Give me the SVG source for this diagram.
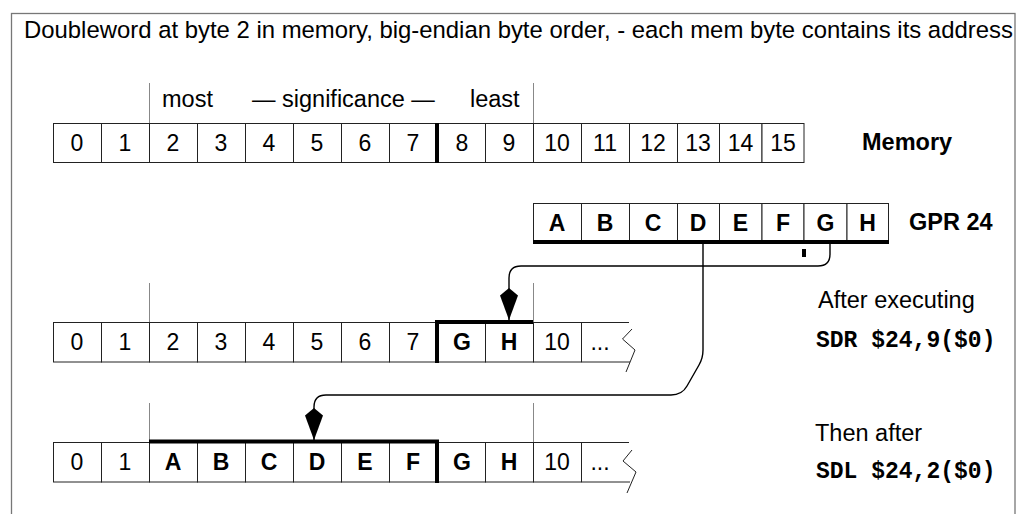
<svg xmlns="http://www.w3.org/2000/svg" width="1021" height="514" viewBox="0 0 1021 514">
<style>
  .frame { fill: #fff; stroke: #777; stroke-width: 1.3; }
  .cell { fill: #fff; stroke: #222; stroke-width: 1; }
  .edge { fill: none; stroke: #222; stroke-width: 1; }
  .tick { stroke: #888; stroke-width: 1; }
  .thick { fill: none; stroke: #000; stroke-width: 4; stroke-linejoin: miter; stroke-linecap: butt; }
  .conn { fill: none; stroke: #000; stroke-width: 1.4; }
  .t { font-family: "Liberation Sans", Arial, Helvetica, sans-serif; fill: #000; }
  .lbl { font-size: 23.5px; }
  .num { font-size: 23px; text-anchor: middle; }
  .b { font-weight: bold; }
  .mono { font-family: "Liberation Mono", "Courier New", monospace; font-weight: bold; font-size: 23px; fill: #000; }
</style>
<defs>
  <marker id="kite" markerUnits="userSpaceOnUse" viewBox="0 0 33 20" refX="32.5" refY="10" markerWidth="33" markerHeight="20" orient="auto">
    <polygon points="0.5,10 8,1 32.5,10 8,19" fill="#000"/>
  </marker>
</defs>

<rect class="frame" x="11.5" y="13.5" width="1003.5" height="530"/>

<g id="title">
  <text class="t lbl" x="24" y="38" style="font-size:23.9px">Doubleword at byte 2 in memory, big-endian byte order, - each mem byte contains its address</text>
</g>

<g id="memory">
  <line class="tick" x1="149.5" y1="83" x2="149.5" y2="123"/>
  <line class="tick" x1="533.5" y1="83" x2="533.5" y2="123"/>
  <text class="t lbl" x="162" y="107">most</text>
  <text class="t lbl" x="252" y="107">— significance —</text>
  <text class="t lbl" x="470" y="107">least</text>
  <rect class="cell" x="53.5" y="123.5" width="48" height="39"/>
  <rect class="cell" x="101.5" y="123.5" width="48" height="39"/>
  <rect class="cell" x="149.5" y="123.5" width="48" height="39"/>
  <rect class="cell" x="197.5" y="123.5" width="48" height="39"/>
  <rect class="cell" x="245.5" y="123.5" width="48" height="39"/>
  <rect class="cell" x="293.5" y="123.5" width="48" height="39"/>
  <rect class="cell" x="341.5" y="123.5" width="48" height="39"/>
  <rect class="cell" x="389.5" y="123.5" width="48" height="39"/>
  <rect class="cell" x="437.5" y="123.5" width="48" height="39"/>
  <rect class="cell" x="485.5" y="123.5" width="48" height="39"/>
  <rect class="cell" x="533.5" y="123.5" width="48" height="39"/>
  <rect class="cell" x="581.5" y="123.5" width="48" height="39"/>
  <rect class="cell" x="629.5" y="123.5" width="48" height="39"/>
  <rect class="cell" x="677.5" y="123.5" width="42" height="39"/>
  <rect class="cell" x="719.5" y="123.5" width="42.5" height="39"/>
  <rect class="cell" x="762" y="123.5" width="42" height="39"/>
  <line class="thick" x1="437" y1="123" x2="437" y2="163"/>
  <text class="t num" x="77" y="151">0</text>
  <text class="t num" x="125" y="151">1</text>
  <text class="t num" x="173" y="151">2</text>
  <text class="t num" x="221" y="151">3</text>
  <text class="t num" x="269" y="151">4</text>
  <text class="t num" x="317" y="151">5</text>
  <text class="t num" x="365" y="151">6</text>
  <text class="t num" x="413" y="151">7</text>
  <text class="t num" x="462" y="151">8</text>
  <text class="t num" x="509" y="151">9</text>
  <text class="t num" x="557" y="151">10</text>
  <text class="t num" x="605" y="151">11</text>
  <text class="t num" x="653" y="151">12</text>
  <text class="t num" x="698" y="151">13</text>
  <text class="t num" x="740.5" y="151">14</text>
  <text class="t num" x="783" y="151">15</text>
  <text class="t lbl b" x="862" y="150">Memory</text>
</g>

<g id="gpr24">
  <rect class="cell" x="533.5" y="203.5" width="48" height="38.5"/>
  <rect class="cell" x="581.5" y="203.5" width="48" height="38.5"/>
  <rect class="cell" x="629.5" y="203.5" width="48" height="38.5"/>
  <rect class="cell" x="677.5" y="203.5" width="42" height="38.5"/>
  <rect class="cell" x="719.5" y="203.5" width="42.5" height="38.5"/>
  <rect class="cell" x="762" y="203.5" width="42" height="38.5"/>
  <rect class="cell" x="804" y="203.5" width="43" height="38.5"/>
  <rect class="cell" x="847" y="203.5" width="41.5" height="38.5"/>
  <line class="thick" x1="533" y1="242" x2="889" y2="242"/>
  <rect x="802" y="249" width="4" height="8" fill="#000"/>
  <text class="t num b" x="557" y="231">A</text>
  <text class="t num b" x="605" y="231">B</text>
  <text class="t num b" x="653" y="231">C</text>
  <text class="t num b" x="698" y="231">D</text>
  <text class="t num b" x="740.5" y="231">E</text>
  <text class="t num b" x="783" y="231">F</text>
  <text class="t num b" x="825.5" y="231">G</text>
  <text class="t num b" x="867.5" y="231">H</text>
  <text class="t lbl b" x="909" y="230">GPR 24</text>
</g>

<g id="after-sdr">
  <line class="tick" x1="149.5" y1="283" x2="149.5" y2="322"/>
  <line class="tick" x1="533.5" y1="283" x2="533.5" y2="322"/>
  <rect class="cell" x="53.5" y="322.5" width="48" height="39.5"/>
  <rect class="cell" x="101.5" y="322.5" width="48" height="39.5"/>
  <rect class="cell" x="149.5" y="322.5" width="48" height="39.5"/>
  <rect class="cell" x="197.5" y="322.5" width="48" height="39.5"/>
  <rect class="cell" x="245.5" y="322.5" width="48" height="39.5"/>
  <rect class="cell" x="293.5" y="322.5" width="48" height="39.5"/>
  <rect class="cell" x="341.5" y="322.5" width="48" height="39.5"/>
  <rect class="cell" x="389.5" y="322.5" width="48" height="39.5"/>
  <rect class="cell" x="437.5" y="322.5" width="48" height="39.5"/>
  <rect class="cell" x="485.5" y="322.5" width="48" height="39.5"/>
  <rect class="cell" x="533.5" y="322.5" width="48" height="39.5"/>
  <path class="edge" d="M581.5,322.5 L629,322.5 M581.5,362 L630,362"/>
  <path class="edge" d="M632,329 L622.5,339 L635,350 L626,372"/>
  <path class="thick" d="M437,363 L437,322 L533,322"/>
  <text class="t num" x="77" y="350">0</text>
  <text class="t num" x="125" y="350">1</text>
  <text class="t num" x="173" y="350">2</text>
  <text class="t num" x="221" y="350">3</text>
  <text class="t num" x="269" y="350">4</text>
  <text class="t num" x="317" y="350">5</text>
  <text class="t num" x="365" y="350">6</text>
  <text class="t num" x="413" y="350">7</text>
  <text class="t num b" x="462" y="350">G</text>
  <text class="t num b" x="509" y="350">H</text>
  <text class="t num" x="557" y="350">10</text>
  <text class="t num" x="600" y="350">...</text>
  <text class="t lbl" x="818" y="308">After executing</text>
  <text class="mono" x="816" y="347">SDR $24,9($0)</text>
</g>

<g id="after-sdl">
  <line class="tick" x1="149.5" y1="403" x2="149.5" y2="442"/>
  <line class="tick" x1="533.5" y1="403" x2="533.5" y2="442"/>
  <rect class="cell" x="53.5" y="442.5" width="48" height="39.5"/>
  <rect class="cell" x="101.5" y="442.5" width="48" height="39.5"/>
  <rect class="cell" x="149.5" y="442.5" width="48" height="39.5"/>
  <rect class="cell" x="197.5" y="442.5" width="48" height="39.5"/>
  <rect class="cell" x="245.5" y="442.5" width="48" height="39.5"/>
  <rect class="cell" x="293.5" y="442.5" width="48" height="39.5"/>
  <rect class="cell" x="341.5" y="442.5" width="48" height="39.5"/>
  <rect class="cell" x="389.5" y="442.5" width="48" height="39.5"/>
  <rect class="cell" x="437.5" y="442.5" width="48" height="39.5"/>
  <rect class="cell" x="485.5" y="442.5" width="48" height="39.5"/>
  <rect class="cell" x="533.5" y="442.5" width="48" height="39.5"/>
  <path class="edge" d="M581.5,442.5 L629,442.5 M581.5,482 L630,482"/>
  <path class="edge" d="M632,450 L623,461 L636,472 L627,493"/>
  <path class="thick" d="M149,441.5 L437,441.5 L437,483"/>
  <text class="t num" x="77" y="470">0</text>
  <text class="t num" x="125" y="470">1</text>
  <text class="t num b" x="173" y="470">A</text>
  <text class="t num b" x="221" y="470">B</text>
  <text class="t num b" x="269" y="470">C</text>
  <text class="t num b" x="317" y="470">D</text>
  <text class="t num b" x="365" y="470">E</text>
  <text class="t num b" x="413" y="470">F</text>
  <text class="t num b" x="462" y="470">G</text>
  <text class="t num b" x="509" y="470">H</text>
  <text class="t num" x="557" y="470">10</text>
  <text class="t num" x="600" y="470">...</text>
  <text class="t lbl" x="815" y="441">Then after</text>
  <text class="mono" x="816" y="478">SDL $24,2($0)</text>
</g>

<g id="connectors">
  <path class="conn" marker-end="url(#kite)" d="M830,244 L830,254 Q830,266 818,266 L521,266 Q509,266 509,278 L509,320"/>
  <path class="conn" marker-end="url(#kite)" d="M703,244 L703,350 Q703,358 699,365 L687,386 Q682,395 671,395 L326,395 Q314,395 314,407 L314,440"/>
</g>
</svg>
